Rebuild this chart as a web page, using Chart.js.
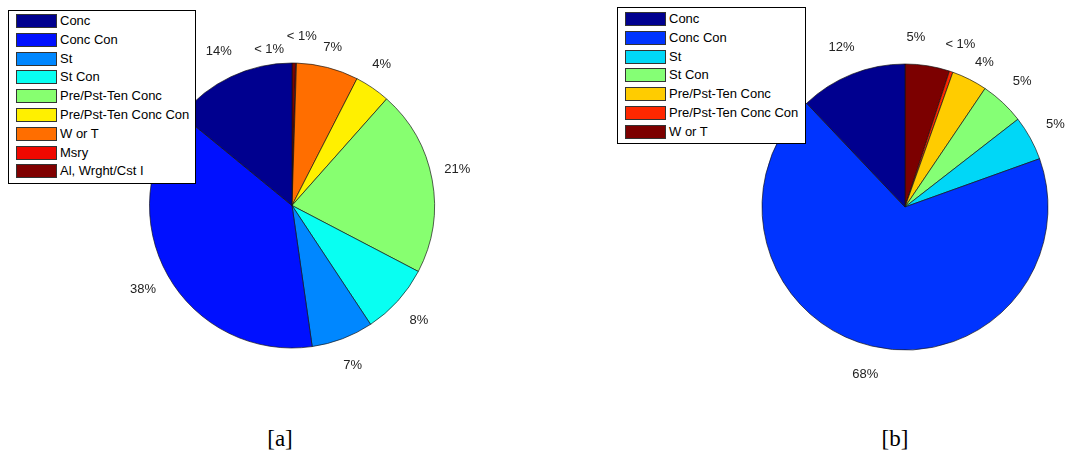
<!DOCTYPE html>
<html>
<head>
<meta charset="utf-8">
<script src="https://cdn.jsdelivr.net/npm/chart.js@4.4.1/dist/chart.umd.min.js"></script>
<style>
  html, body { margin: 0; padding: 0; background: #fff; }
  body { width: 1065px; height: 454px; position: relative; overflow: hidden;
         font-family: "Liberation Sans", Arial, sans-serif; }
  canvas { position: absolute; }
  .legend { position: absolute; background: #fff; border: 1px solid #000;
            box-sizing: border-box; z-index: 2; }
  .sw { position: absolute; width: 41px; height: 14px; border: 1px solid #333; box-sizing: border-box; }
  .lt { position: absolute; font-size: 13px; line-height: 14px; color: #000; white-space: nowrap; }
  .cap { position: absolute; width: 80px; text-align: center; font-size: 23px; line-height: 23px;
         font-family: "Liberation Serif", "Times New Roman", serif; color: #000; }
</style>
</head>
<body>
<canvas id="pieA" width="584" height="411" style="left:0;top:0"></canvas>
<canvas id="pieB" width="320" height="414" style="left:745px;top:0"></canvas>
<div id="legA" class="legend" style="left:8px;top:10px;width:188px;height:174px"></div>
<div id="legB" class="legend" style="left:617px;top:7px;width:189px;height:137px"></div>
<div class="cap" style="left:240px;top:427px">[a]</div>
<div class="cap" style="left:855px;top:427px">[b]</div>

<script>
// Panel [a]: shares by category (percent)
const categoriesA = ['Conc', 'Conc Con', 'St', 'St Con', 'Pre/Pst-Ten Conc',
                     'Pre/Pst-Ten Conc Con', 'W or T', 'Msry', 'Al, Wrght/Cst I'];
const valuesA = [14, 38, 7, 8, 21, 4, 7, 0.1, 0.4];
const colorsA = ['#00008f', '#0010ff', '#0087ff', '#08fff2', '#87ff70',
                 '#fff000', '#ff6e00', '#f00800', '#800000'];

// Panel [b]: shares by category (percent)
const categoriesB = ['Conc', 'Conc Con', 'St', 'St Con', 'Pre/Pst-Ten Conc',
                     'Pre/Pst-Ten Conc Con', 'W or T'];
const valuesB = [12, 68, 5, 5, 4, 0.4, 5];
const colorsB = ['#00008f', '#0034ff', '#00d7f7', '#85ff75', '#ffcc00', '#ff2800', '#7c0000'];

const FONT = '13px "Liberation Sans", Arial, sans-serif';

function pctText(v, total) {
  return v < 1 ? '< 1%' : Math.round(v / total * 100) + '%';
}

// Percent labels placed outside each wedge along its mid-angle
const pctLabels = {
  id: 'pctLabels',
  afterDatasetsDraw(chart, args, opts) {
    const ctx = chart.ctx;
    const meta = chart.getDatasetMeta(0);
    const data = chart.data.datasets[0].data;
    const cats = chart.data.labels;
    const total = data.reduce((a, b) => a + b, 0);
    ctx.save();
    ctx.font = FONT;
    ctx.fillStyle = '#222';
    ctx.textAlign = 'center';
    ctx.textBaseline = 'middle';
    meta.data.forEach((arc, i) => {
      const p = arc.getProps(['x', 'y', 'startAngle', 'endAngle', 'outerRadius'], true);
      const mid = (p.startAngle + p.endAngle) / 2;
      const rr = p.outerRadius * opts.factor;
      let x = p.x + Math.cos(mid) * rr;
      let y = p.y + Math.sin(mid) * rr;
      const n = (opts.nudge || {})[cats[i]];
      if (n) { x += n[0]; y += n[1]; }
      ctx.fillText(pctText(data[i], total), x, y);
    });
    ctx.restore();
  }
};

// Wedges run counter-clockwise from 12 o'clock, so feed them reversed
function makePie(id, cats, vals, cols, radius, nudge) {
  const rc = cats.slice().reverse();
  const rv = vals.slice().reverse();
  const rcol = cols.slice().reverse();
  return new Chart(document.getElementById(id), {
    type: 'pie',
    data: {
      labels: rc,
      datasets: [{
        data: rv,
        backgroundColor: rcol,
        borderColor: 'rgba(20,20,20,0.85)',
        borderWidth: 0.8
      }]
    },
    options: {
      responsive: false,
      animation: false,
      radius: radius,
      layout: { padding: 0 },
      plugins: {
        legend: { display: false },
        tooltip: { enabled: false },
        pctLabels: { factor: 1.2, nudge: nudge }
      }
    },
    plugins: [pctLabels]
  });
}

function buildLegend(id, cats, cols, swLeft, textLeft, firstTop, pitch) {
  const box = document.getElementById(id);
  cats.forEach((c, i) => {
    const top = firstTop + i * pitch;
    const sw = document.createElement('div');
    sw.className = 'sw';
    sw.style.left = swLeft + 'px';
    sw.style.top = top + 'px';
    sw.style.background = cols[i];
    box.appendChild(sw);
    const t = document.createElement('div');
    t.className = 'lt';
    t.style.left = textLeft + 'px';
    t.style.top = top + 'px';
    t.textContent = c;
    box.appendChild(t);
  });
}

// small label offsets keep crowded labels apart
makePie('pieA', categoriesA, valuesA, colorsA, 142.5,
        { 'Al, Wrght/Cst I': [-25, 15], 'Msry': [5, 2], 'W or T': [-2, 7],
          'Pre/Pst-Ten Conc Con': [-7, 0], 'Pre/Pst-Ten Conc': [-3, -5] });
makePie('pieB', categoriesB, valuesB, colorsB, 143,
        { 'W or T': [-16, 0], 'Pre/Pst-Ten Conc': [2, 9] });

buildLegend('legA', categoriesA, colorsA, 7, 51, 3, 18.8);
buildLegend('legB', categoriesB, colorsB, 7, 51, 4, 18.8);
</script>
</body>
</html>
